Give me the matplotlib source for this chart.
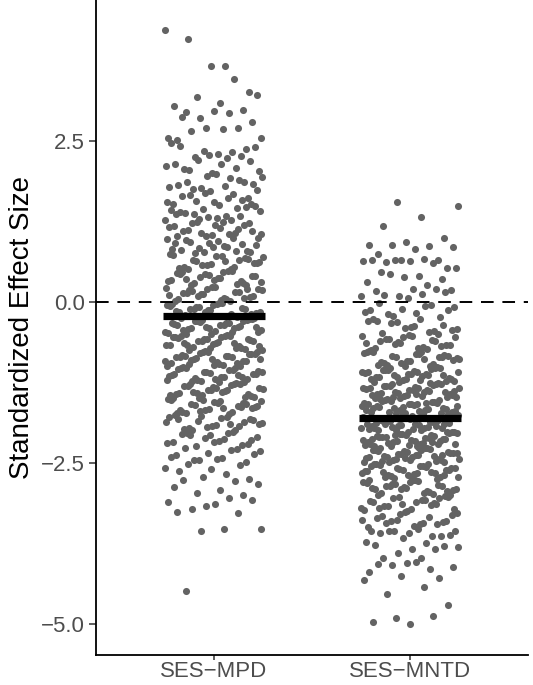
import matplotlib
matplotlib.use("Agg")
import matplotlib.pyplot as plt
import numpy as np

# Categorías y valores (estimados punto a punto por franjas)
categorias = ["SES\u2212MPD", "SES\u2212MNTD"]

ses_mpd = [
    4.23, 3.66, 4.09, 3.26, 3.67, 3.05, 3.46, 3.18, 3.21, 3.09,
    2.87, 2.98, 2.70, 2.54, 2.93, 2.65, 2.80, 2.96, 2.51, 2.71, 2.86, 2.55, 2.68, 2.95,
    2.38, 2.29, 2.47, 2.33, 2.26, 2.41, 2.30, 2.43, 2.27, 2.35,
    2.12, 2.24, 2.05, 2.19, 2.01, 2.15, 2.08, 2.21, 2.03, 2.14, 2.06,
    1.87, 1.96, 1.79, 1.93, 1.76, 1.84, 1.99, 1.81, 1.90, 1.77, 1.94, 1.80, 1.86,
    1.62, 1.72, 1.53, 1.68, 1.57, 1.74, 1.50, 1.65, 1.59, 1.69, 1.55, 1.61, 1.66, 1.52, 1.56,
    1.36, 1.46, 1.29, 1.42, 1.25, 1.39, 1.48, 1.32, 1.43, 1.27, 1.37, 1.49, 1.30, 1.40, 1.34, 1.44, 1.28, 1.33,
    1.12, 1.22, 1.04, 1.18, 1.07, 1.24, 1.00, 1.15, 1.10, 1.20, 1.02, 1.16, 1.06, 1.23, 1.11, 1.19, 1.03, 1.14, 1.08, 1.05,
    0.87, 0.96, 0.79, 0.92, 0.83, 0.99, 0.76, 0.89, 0.95, 0.81, 0.90, 0.77, 0.98, 0.85, 0.93, 0.78, 0.86, 0.91, 0.80, 0.84,
    0.62, 0.71, 0.54, 0.68, 0.58, 0.74, 0.51, 0.65, 0.60, 0.72, 0.53, 0.66, 0.57, 0.70, 0.63, 0.52, 0.67, 0.59, 0.73, 0.55, 0.64, 0.61,
    0.38, 0.47, 0.29, 0.43, 0.33, 0.49, 0.26, 0.41, 0.35, 0.45, 0.28, 0.39, 0.31, 0.46, 0.36, 0.27, 0.42, 0.34, 0.48, 0.30, 0.40, 0.37, 0.44, 0.32,
    0.13, 0.22, 0.04, 0.18, 0.08, 0.24, 0.01, 0.16, 0.10, 0.20, 0.03, 0.14, 0.06, 0.21, 0.11, 0.02, 0.17, 0.09, 0.23, 0.05, 0.15, 0.12, 0.19, 0.07, 0.14, 0.21,
    -0.12, -0.03, -0.21, -0.07, -0.17, -0.01, -0.24, -0.09, -0.15, -0.05, -0.22, -0.11, -0.19, -0.04, -0.14, -0.23, -0.08, -0.16, -0.02, -0.20, -0.10, -0.13, -0.06, -0.18, -0.11, -0.24, -0.03, -0.16,
    -0.37, -0.28, -0.46, -0.32, -0.42, -0.26, -0.49, -0.34, -0.40, -0.30, -0.47, -0.36, -0.44, -0.29, -0.39, -0.48, -0.33, -0.41, -0.27, -0.45, -0.35, -0.38, -0.31, -0.43, -0.36, -0.49, -0.28, -0.41, -0.33, -0.46, -0.30, -0.39,
    -0.62, -0.53, -0.71, -0.57, -0.67, -0.51, -0.74, -0.59, -0.65, -0.55, -0.72, -0.61, -0.69, -0.54, -0.64, -0.73, -0.58, -0.66, -0.52, -0.70, -0.60, -0.63, -0.56, -0.68, -0.61, -0.74, -0.53, -0.66, -0.58, -0.71, -0.55, -0.64,
    -0.87, -0.78, -0.96, -0.82, -0.92, -0.76, -0.99, -0.84, -0.90, -0.80, -0.97, -0.86, -0.94, -0.79, -0.89, -0.98, -0.83, -0.91, -0.77, -0.95, -0.85, -0.88, -0.81, -0.93, -0.86, -0.99, -0.78, -0.91, -0.83, -0.96, -0.80, -0.89,
    -1.12, -1.03, -1.21, -1.07, -1.17, -1.01, -1.24, -1.09, -1.15, -1.05, -1.22, -1.11, -1.19, -1.04, -1.14, -1.23, -1.08, -1.16, -1.02, -1.20, -1.10, -1.13, -1.06, -1.18, -1.11, -1.24, -1.03, -1.16, -1.08, -1.21,
    -1.37, -1.28, -1.46, -1.32, -1.42, -1.26, -1.49, -1.34, -1.40, -1.30, -1.47, -1.36, -1.44, -1.29, -1.39, -1.48, -1.33, -1.41, -1.27, -1.45, -1.35, -1.38, -1.31, -1.43, -1.36, -1.49, -1.28, -1.41,
    -1.62, -1.53, -1.71, -1.57, -1.67, -1.51, -1.74, -1.59, -1.65, -1.55, -1.72, -1.61, -1.69, -1.54, -1.64, -1.73, -1.58, -1.66, -1.52, -1.70, -1.60, -1.63,
    -1.57, -1.68, -1.63, -1.52,
    -1.87, -1.78, -1.96, -1.82, -1.92, -1.76, -1.99, -1.84, -1.90, -1.80, -1.97, -1.86, -1.94, -1.79, -1.89, -1.98, -1.83, -1.91,
    -1.81, -1.93, -1.77, -1.88,
    -2.12, -2.03, -2.21, -2.07, -2.17, -2.01, -2.24, -2.09, -2.15, -2.05, -2.22, -2.11, -2.19, -2.04,
    -2.06, -2.14, -2.18,
    -2.37, -2.28, -2.46, -2.32, -2.42, -2.26, -2.49, -2.34, -2.40, -2.30, -2.45,
    -2.36, -2.44,
    -2.62, -2.53, -2.71, -2.57, -2.67, -2.51, -2.74, -2.59,
    -2.87, -2.78, -2.96, -2.82, -2.92, -2.76, -2.99,
    -3.17, -3.10, -3.04, -3.21, -3.08, -3.14,
    -3.26, -3.28, -3.56, -3.53, -3.52, -4.48,
]

ses_mntd = [
    1.55, 1.49, 1.32, 1.18,
    0.99, 0.93, 0.88, 0.87, 0.89, 0.86, 0.82,
    0.74, 0.65, 0.66, 0.63, 0.67, 0.62, 0.53, 0.64, 0.66, 0.61, 0.65, 0.53,
    0.40, 0.46, 0.36, 0.39, 0.31, 0.26, 0.44,
    0.19, 0.21, 0.17, 0.20, 0.09, 0.10, 0.12, 0.11, 0.16, 0.07,
    -0.12, -0.04, -0.21, -0.08, -0.17, -0.02, -0.23, -0.10, -0.15, -0.06, -0.19, -0.13,
    -0.38, -0.27, -0.45, -0.31, -0.42, -0.26, -0.48, -0.35, -0.40, -0.29, -0.46, -0.33, -0.44, -0.37, -0.30, -0.49,
    -0.63, -0.52, -0.70, -0.57, -0.67, -0.51, -0.74, -0.59, -0.65, -0.55, -0.72, -0.61, -0.69, -0.54, -0.64, -0.73, -0.58, -0.66, -0.53, -0.71, -0.60, -0.62,
    -0.88, -0.77, -0.95, -0.82, -0.92, -0.76, -0.99, -0.84, -0.90, -0.80, -0.97, -0.86, -0.94, -0.79, -0.89, -0.98, -0.83, -0.91, -0.78, -0.96, -0.85, -0.87, -0.81, -0.93, -0.86, -0.99, -0.77,
    -1.13, -1.02, -1.20, -1.07, -1.17, -1.01, -1.24, -1.09, -1.15, -1.05, -1.22, -1.11, -1.19, -1.04, -1.14, -1.23, -1.08, -1.16, -1.03, -1.21, -1.10, -1.12, -1.06, -1.18, -1.11, -1.24, -1.02, -1.16, -1.08, -1.21, -1.05, -1.14, -1.19, -1.09,
    -1.38, -1.27, -1.45, -1.32, -1.42, -1.26, -1.49, -1.34, -1.40, -1.30, -1.47, -1.36, -1.44, -1.29, -1.39, -1.48, -1.33, -1.41, -1.28, -1.46, -1.35, -1.37, -1.31, -1.43, -1.36, -1.49, -1.27, -1.41, -1.33, -1.46, -1.30, -1.39, -1.44, -1.34, -1.26, -1.47, -1.38, -1.42,
    -1.63, -1.52, -1.70, -1.57, -1.67, -1.51, -1.74, -1.59, -1.65, -1.55, -1.72, -1.61, -1.69, -1.54, -1.64, -1.73, -1.58, -1.66, -1.53, -1.71, -1.60, -1.62, -1.56, -1.68, -1.61, -1.74, -1.52, -1.66, -1.58, -1.71, -1.55, -1.64, -1.69, -1.59, -1.51, -1.72, -1.63, -1.67, -1.57, -1.70,
    -1.88, -1.77, -1.95, -1.82, -1.92, -1.76, -1.99, -1.84, -1.90, -1.80, -1.97, -1.86, -1.94, -1.79, -1.89, -1.98, -1.83, -1.91, -1.78, -1.96, -1.85, -1.87, -1.81, -1.93, -1.86, -1.99, -1.77, -1.91, -1.83, -1.96, -1.80, -1.89, -1.94, -1.84, -1.76, -1.97, -1.88, -1.92, -1.82, -1.95, -1.79, -1.90,
    -2.13, -2.02, -2.20, -2.07, -2.17, -2.01, -2.24, -2.09, -2.15, -2.05, -2.22, -2.11, -2.19, -2.04, -2.14, -2.23, -2.08, -2.16, -2.03, -2.21, -2.10, -2.12, -2.06, -2.18, -2.11, -2.24, -2.02, -2.16, -2.08, -2.21, -2.05, -2.14, -2.19, -2.09, -2.01, -2.22, -2.13, -2.17, -2.07, -2.20,
    -2.38, -2.27, -2.45, -2.32, -2.42, -2.26, -2.49, -2.34, -2.40, -2.30, -2.47, -2.36, -2.44, -2.29, -2.39, -2.48, -2.33, -2.41, -2.28, -2.46, -2.35, -2.37, -2.31, -2.43, -2.36, -2.49, -2.27, -2.41, -2.33, -2.46, -2.30, -2.39, -2.44, -2.34, -2.26, -2.47, -2.38, -2.42,
    -2.63, -2.52, -2.70, -2.57, -2.67, -2.51, -2.74, -2.59, -2.65, -2.55, -2.72, -2.61, -2.69, -2.54, -2.64, -2.73, -2.58, -2.66, -2.53, -2.71, -2.60, -2.62, -2.56, -2.68, -2.61, -2.74, -2.52, -2.66, -2.58, -2.71, -2.55, -2.64, -2.69,
    -2.88, -2.77, -2.95, -2.82, -2.92, -2.76, -2.99, -2.84, -2.90, -2.80, -2.97, -2.86, -2.94, -2.79, -2.89, -2.98, -2.83, -2.91, -2.78, -2.96, -2.85, -2.87, -2.81, -2.93, -2.86, -2.99, -2.77, -2.91,
    -3.13, -3.02, -3.20, -3.07, -3.17, -3.01, -3.24, -3.09, -3.15, -3.05, -3.22, -3.11, -3.19, -3.04, -3.14, -3.23, -3.08, -3.16, -3.03, -3.21, -3.10, -3.12,
    -3.38, -3.27, -3.45, -3.32, -3.42, -3.26, -3.49, -3.34, -3.40, -3.30, -3.47, -3.36, -3.44, -3.29, -3.39, -3.43, -3.43, -3.40,
    -3.58, -3.56, -3.64, -3.56, -3.56, -3.53, -3.58, -3.64, -3.66, -3.72, -3.74, -3.56, -3.61,
    -3.84, -3.77, -3.84, -3.89, -3.81, -3.97, -3.97, -3.79,
    -4.05, -4.19, -4.14, -4.08, -4.11, -4.03, -4.06,
    -4.29, -4.25, -4.31, -4.43,
    -4.53, -4.70,
    -5.00, -4.96, -4.87, -4.91,
]

y_ticks = [2.5, 0.0, -2.5, -5.0]
y_tick_labels = ["2.5", "0.0", "\u22122.5", "\u22125.0"]

plt.rcParams["font.family"] = ["Liberation Sans", "DejaVu Sans"]

fig = plt.figure(figsize=(5.33, 6.85), dpi=100)
ax = fig.add_axes([96 / 533, 30 / 685, 432 / 533, 655 / 685])

phi = (np.sqrt(5) - 1) / 2
ancho = 0.25
for i, valores in enumerate([ses_mpd, ses_mntd]):
    y = np.array(valores)
    # desplazamiento horizontal determinista (jitter) a partir del índice
    frac = (np.arange(len(y)) * phi + 0.37 * i) % 1.0
    x = (i + 1) + ancho * (2 * frac - 1)
    ax.scatter(x, y, s=26, color="#636363", linewidths=0, zorder=1)
    # barra de la media
    ax.hlines(y.mean(), i + 1 - 0.26, i + 1 + 0.26, color="black", lw=5.2, zorder=3)

ax.axhline(0, color="black", lw=1.4, dashes=(6.5, 4.5), zorder=2)

ax.set_xlim(0.4, 2.6)
ax.set_ylim(-5.48, 4.69)
ax.set_xticks([1, 2])
ax.set_xticklabels(categorias)
ax.set_yticks(y_ticks)
ax.set_yticklabels(y_tick_labels)
ax.set_ylabel("Standardized Effect Size", fontsize=20, labelpad=4)

for lado in ["top", "right"]:
    ax.spines[lado].set_visible(False)
for lado in ["left", "bottom"]:
    ax.spines[lado].set_linewidth(1.3)
    ax.spines[lado].set_color("black")

ax.tick_params(axis="both", width=1.1, color="#333333",
               labelsize=16, labelcolor="#4D4D4D")
ax.tick_params(axis="y", length=5, pad=3)
ax.tick_params(axis="x", length=3.5, pad=0.5)

fig.savefig("out.png", dpi=100)
